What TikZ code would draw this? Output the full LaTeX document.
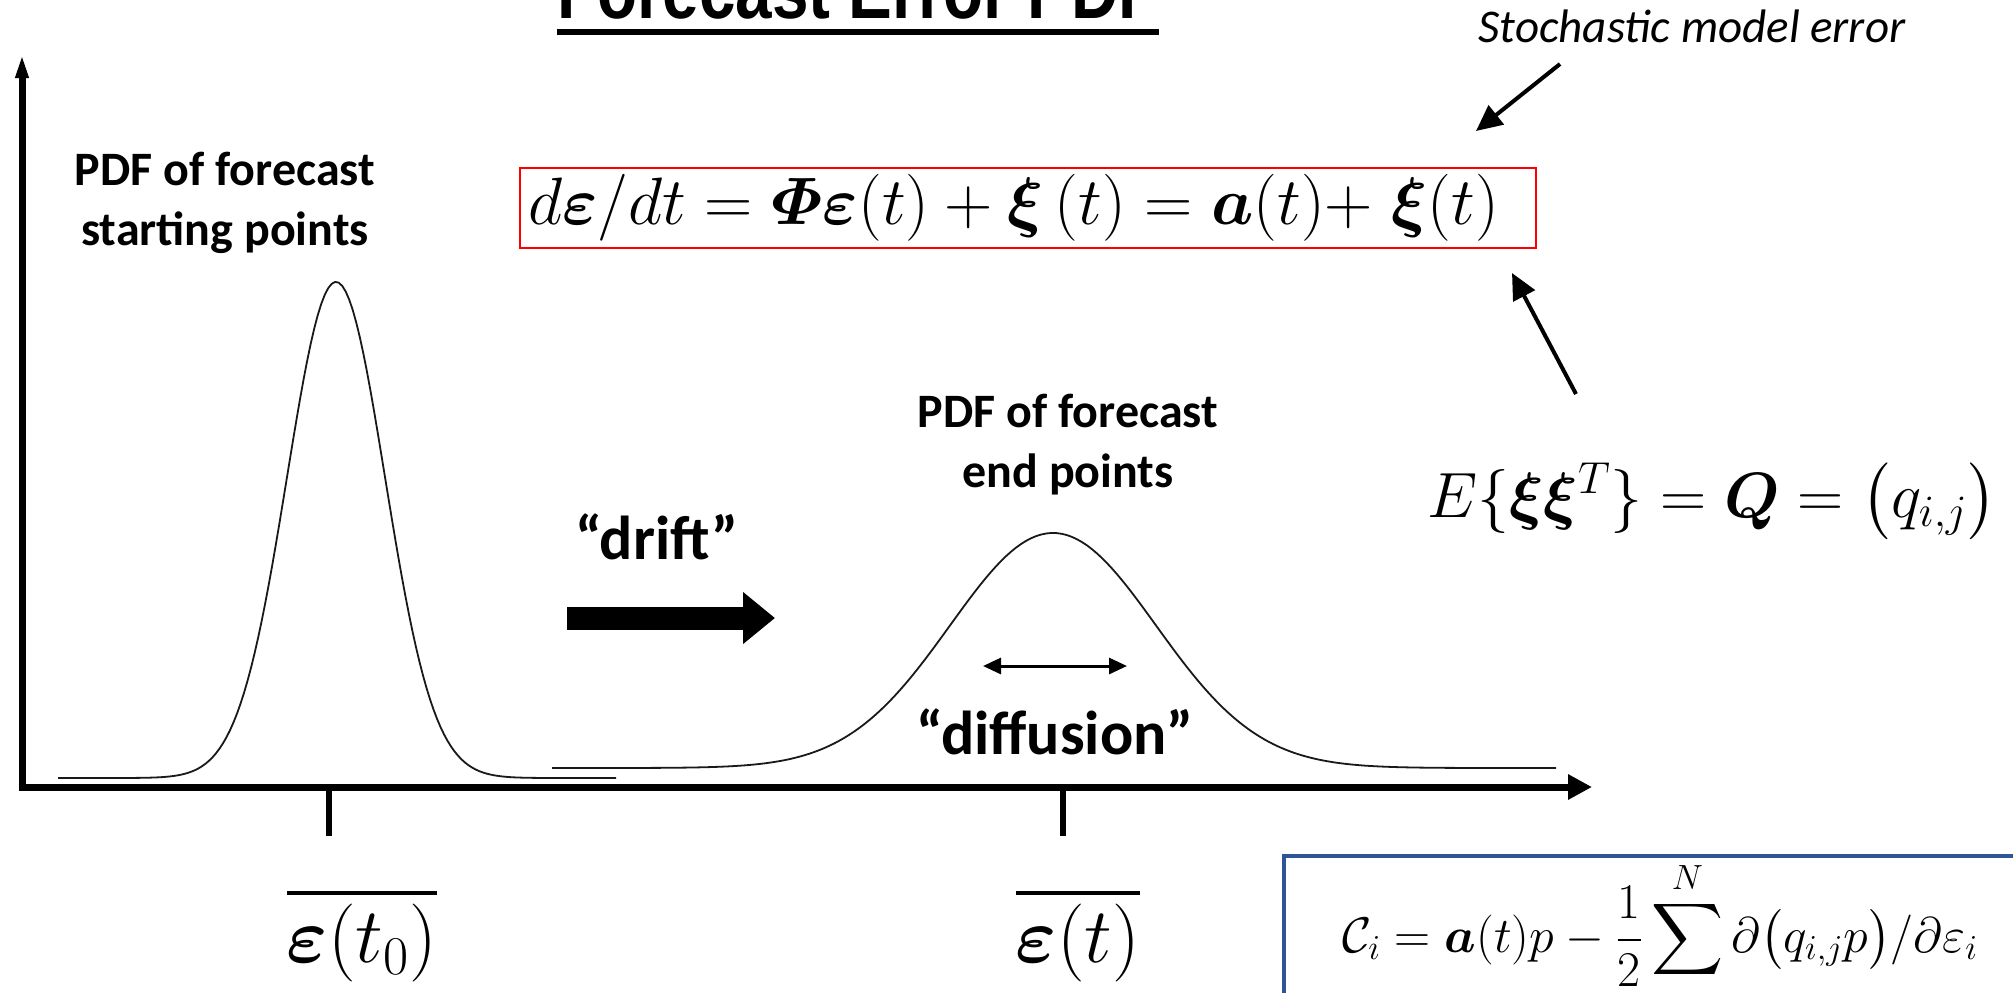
\RequirePackage{fix-cm}
\documentclass[tikz,border=0pt]{standalone}
\usepackage{amsmath,amssymb,bm}
\usepackage{fontspec}
\newfontfamily\calibri{Carlito}
\newfontfamily\titlefont[FakeStretch=0.82]{Liberation Sans}
\usetikzlibrary{arrows.meta}
\definecolor{boxblue}{RGB}{47,85,151}
\tikzset{
  axisline/.style={line width=3.5pt},
  pdfline/.style={line width=0.9pt, black!90},
  lbl/.style={font=\calibri\bfseries\fontsize{24}{30}\selectfont, align=center},
  quote/.style={font=\calibri\bfseries\fontsize{31}{36}\selectfont},
  pointer/.style={line width=2pt, -{Triangle[length=13pt,width=12pt]}},
  eqn/.style={font=\fontsize{33.5}{40}\selectfont},
  mean/.style={font=\fontsize{39}{46}\selectfont},
  tickmark/.style={line width=3pt}
}

\begin{document}
\begin{tikzpicture}[x=0.5pt,y=-0.5pt]
\clip (0,0) rectangle (2013,992);
\coordinate (origin) at (22,787);
\coordinate (ytop) at (22,54);
\coordinate (xend) at (1592,787);
\node (title) [anchor=base, inner sep=0pt, font=\titlefont\bfseries\fontsize{40}{48}\selectfont] at (858,18) {Forecast Error PDF};
\draw[line width=3pt] ([yshift=-7pt]title.base west) -- ([yshift=-7pt]title.base east);
\draw[axisline, -{Triangle[length=12pt,width=6pt]}] (origin) -- (ytop);
\draw[axisline, -{Triangle[length=12pt,width=12pt]}] ([xshift=-1.75pt]origin) -- (xend);
\draw[pdfline] plot[domain=58:616, samples=160] (\x,{778-496*exp(-0.5*((\x-336)/49)^2)});
\draw[pdfline] plot[domain=552:1556, samples=200] (\x,{768-235*exp(-0.5*((\x-1053)/103)^2)});
\node (startpdf) [lbl] at (225,203) {PDF of forecast\\starting points};
\node (endpdf) [lbl] at (1068,445) {PDF of forecast\\end points};
\node (sde) [eqn, draw=red, line width=1pt, text width=500pt, inner xsep=4pt, align=left, minimum height=40pt] at (1028,208)
  {$d\boldsymbol{\varepsilon}/dt=\boldsymbol{\varPhi}\boldsymbol{\varepsilon}(t)+\boldsymbol{\xi}\,(t)=\boldsymbol{a}(t){+}\;\boldsymbol{\xi}(t)$};
\node (smelabel) [font=\calibri\itshape\fontsize{23.5}{28}\selectfont] at (1692,26) {Stochastic model error};
\coordinate (sme tail) at (1560,64);
\coordinate (sme tip) at (1476,131);
\draw[pointer] (sme tail) -- (sme tip);
\node (cov) [eqn, font=\fontsize{32}{38}\selectfont] at (1712,501) {$E\{\boldsymbol{\xi}\boldsymbol{\xi}^T\}=\boldsymbol{Q}=\big(q_{i,j}\big)$};
\coordinate (cov tail) at (1576,394);
\coordinate (cov tip) at (1512,273);
\draw[pointer] (cov tail) -- (cov tip);
\node (drift) [quote] at (657,537) {“drift”};
\coordinate (drift tail) at (567,618);
\coordinate (drift tip) at (775,618);
\draw[line width=11.5pt, -{Triangle[length=16pt,width=25pt]}] (drift tail) -- (drift tip);
\coordinate (spread l) at (983,666);
\coordinate (spread r) at (1127,666);
\draw[line width=1.5pt, {Triangle[length=9pt,width=8pt]}-{Triangle[length=9pt,width=8pt]}] (spread l) -- (spread r);
\node (diffusion) [quote] at (1055,732) {“diffusion”};
\draw[tickmark] (329,790) -- (329,836);
\draw[tickmark] (1063,790) -- (1063,836);
\node (mean0) [mean] at (362,935) {$\overline{\boldsymbol{\varepsilon}(t_0)}$};
\node (mean1) [mean] at (1078,935) {$\overline{\boldsymbol{\varepsilon}(t)}$};
\draw[boxblue, line width=2.2pt] (1284,856) rectangle (2070,1050);
\node (flux) [anchor=base west, font=\fontsize{25}{30}\selectfont] at (1335,952)
  {$\mathcal{C}_i=\boldsymbol{a}(t)p-\dfrac{1}{2}\displaystyle\sum^{N}\partial\big(q_{i,j}p\big)/\partial\varepsilon_i$};
\end{tikzpicture}
\end{document}
